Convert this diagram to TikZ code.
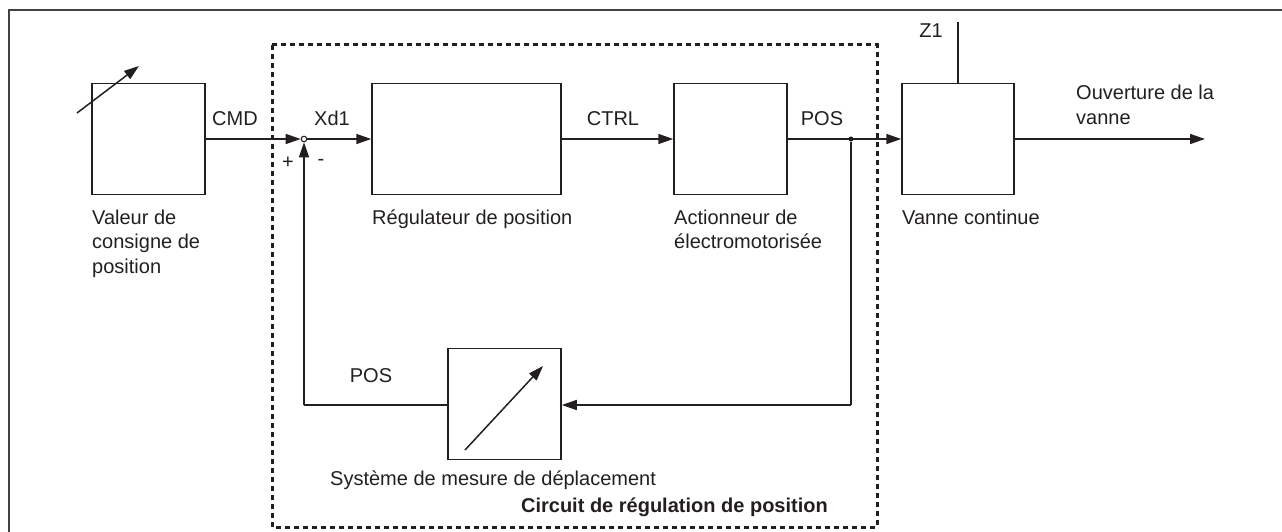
\documentclass[tikz,border=0pt]{standalone}
\usepackage{fontspec}
\setmainfont{Liberation Sans}
\usetikzlibrary{arrows.meta}
\definecolor{ink}{HTML}{231F20}
\tikzset{
  blk/.style={draw=ink, line width=1.5pt, inner sep=0pt, minimum height=111pt},
  wire/.style={draw=ink, line width=1.5pt},
  arr/.style={wire, -{Triangle[length=15pt,width=10pt]}},
  lbl/.style={inner sep=0pt, text=ink, font=\fontsize{20}{24.5}\selectfont},
  sumpt/.style={circle, draw=ink, fill=white, line width=1.1pt, minimum size=5.5pt, inner sep=0pt},
  dotpt/.style={circle, fill=ink, minimum size=5pt, inner sep=0pt},
  region/.style={draw=ink, line width=3pt, dash pattern=on 5pt off 4pt}
}
\begin{document}
\begin{tikzpicture}[x=1pt,y=-1pt]
\useasboundingbox (0,0) rectangle (1282,532);
% outer frame (left and top edges visible)
\coordinate (fbl) at (9,540);
\coordinate (ftl) at (9,10);
\coordinate (ftr) at (1290,10);
\draw[draw=ink!85, line width=1.5pt] (fbl) -- (ftl) -- (ftr);
% dashed region
\draw[region] (272,45) rectangle (877,527);
% blocks
\node[blk, minimum width=113pt] (val) at (148.5,139) {};
\node[blk, minimum width=189pt] (reg) at (466.5,139) {};
\node[blk, minimum width=113pt] (act) at (730.5,139) {};
\node[blk, minimum width=112pt] (van) at (958,139) {};
\node[blk, minimum width=113pt] (mes) at (504.5,404) {};
% summing point and branch dot
\node[sumpt] (sum) at (304,139) {};
\node[dotpt] (br) at (851,139) {};
\coordinate (brdown) at (851,405);
\coordinate (sumdown) at (304,405);
\coordinate (z1top) at (958,22);
\coordinate (outend) at (1205,139);
% adjustable arrows inside blocks
\coordinate (va1) at (77,113);
\coordinate (va2) at (139,66);
\coordinate (me1) at (465,450);
\coordinate (me2) at (543,366);
\draw[arr] (va1) -- (va2);
\draw[arr] (me1) -- (me2);
% connectors
\draw[arr] (val.east) -- (sum.west);
\draw[arr] (sum.east) -- (reg.west);
\draw[arr] (reg.east) -- (act.west);
\draw[arr] (act.east) -- (van.west);
\draw[wire] (br) -- (brdown);
\draw[arr] (brdown) -- (mes.east |- brdown);
\draw[wire] (mes.west |- sumdown) -- (sumdown);
\draw[arr] (sumdown) -- (sum.south);
\draw[wire] (van.north) -- (z1top);
\draw[arr] (van.east) -- (outend);
% signal labels
\node[lbl, anchor=base] (lcmd) at (235,126) {CMD};
\node[lbl, anchor=base] (lxd) at (332,126) {Xd1};
\node[lbl, anchor=base] (lctrl) at (613,125) {CTRL};
\node[lbl, anchor=base] (lpos) at (822,125) {POS};
\node[lbl, anchor=base] (lpos2) at (371,382) {POS};
\node[lbl, anchor=base] (lz) at (931,38) {Z1};
\node[lbl, anchor=center] (lplus) at (288,163) {+};
\node[lbl, anchor=center] (lminus) at (321,162) {-};
% block captions
\node[lbl, anchor=base west] (cval1) at (92,224) {Valeur de};
\node[lbl, anchor=base west] (cval2) at (92,248.5) {consigne de};
\node[lbl, anchor=base west] (cval3) at (92,273) {position};
\node[lbl, anchor=base west] (creg) at (372,224) {Régulateur de position};
\node[lbl, anchor=base west] (cact1) at (674,224) {Actionneur de};
\node[lbl, anchor=base west] (cact2) at (674,248.5) {électromotorisée};
\node[lbl, anchor=base west] (cvan) at (902,224) {Vanne continue};
\node[lbl, anchor=base west] (cout1) at (1076,100) {Ouverture de la};
\node[lbl, anchor=base west] (cout2) at (1076,124.5) {vanne};
\node[lbl, anchor=base west] (cmes) at (330,485) {Système de mesure de déplacement};
\node[lbl, anchor=base east, font=\fontsize{20}{24.5}\selectfont\bfseries] (ccirc) at (828,512) {Circuit de régulation de position};
\end{tikzpicture}
\end{document}
